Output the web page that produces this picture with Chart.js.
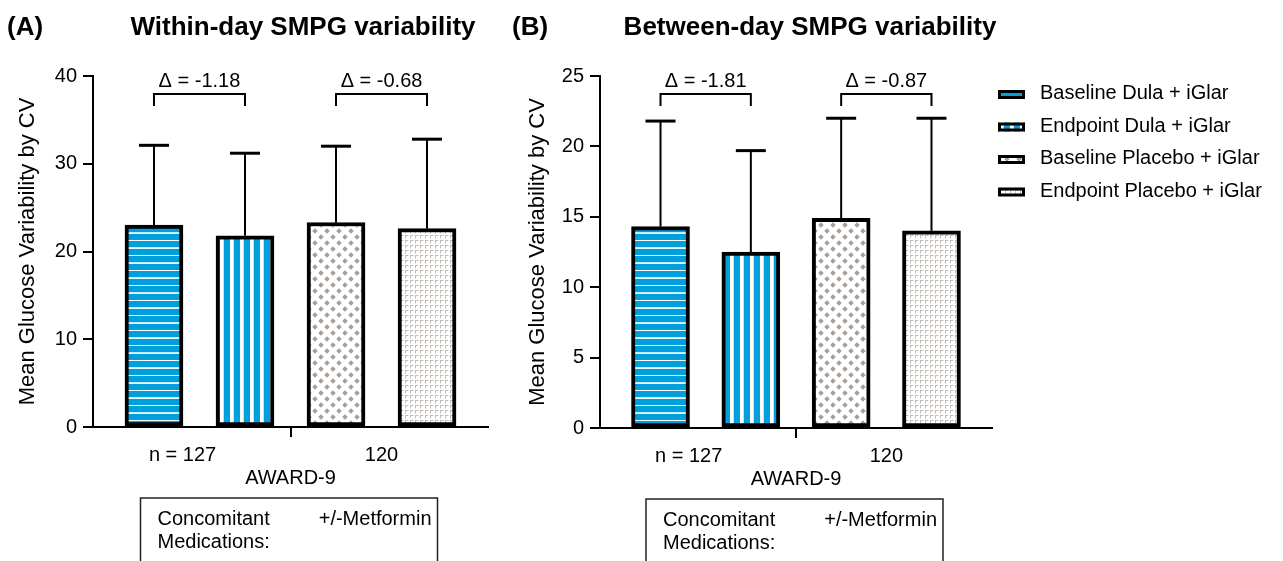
<!DOCTYPE html>
<html><head><meta charset="utf-8">
<script src="https://cdn.jsdelivr.net/npm/chart.js@4.4.0/dist/chart.umd.min.js"></script>
<style>
html,body{margin:0;padding:0;background:#fff;width:1283px;height:561px;overflow:hidden}
.wrap{position:absolute;top:0}
canvas{display:block}
</style></head><body>
<div class="wrap" style="left:0;width:500px;height:561px"><canvas id="a" width="500" height="561"></canvas></div>
<div class="wrap" style="left:500px;width:783px;height:561px"><canvas id="b" width="783" height="561"></canvas></div>
<script>
// ---------- data ----------
const seriesLabels = ['Baseline Dula + iGlar', 'Endpoint Dula + iGlar', 'Baseline Placebo + iGlar', 'Endpoint Placebo + iGlar'];
const groupN = [127, 120];
const studyLabel = 'AWARD-9';
const medsLabel = ['Concomitant', 'Medications:'];
const medsValue = '+/-Metformin';
const yTitle = 'Mean Glucose Variability by CV';

const withinMean = [23.0, 21.8, 23.3, 22.6];
const withinSD = [9.1, 9.4, 8.7, 10.2];
const withinDelta = [-1.18, -0.68];
const withinTicks = [0, 10, 20, 30, 40];

const betweenMean = [14.3, 12.5, 14.9, 14.0];
const betweenSD = [7.5, 7.2, 7.1, 8.0];
const betweenDelta = [-1.81, -0.87];
const betweenTicks = [0, 5, 10, 15, 20, 25];

// ---------- styles ----------
const FONT = '"Liberation Sans", Arial, Helvetica, sans-serif';
const BLUE = '#00a0dd';
Chart.defaults.font.family = FONT;
Chart.defaults.color = '#000';

function tile(w, h, draw) {
  const c = document.createElement('canvas');
  c.width = w; c.height = h;
  const g = c.getContext('2d');
  draw(g);
  return document.createElement('canvas').getContext('2d').createPattern(c, 'repeat');
}
const patterns = [
  tile(8, 15, g => { g.fillStyle = BLUE; g.fillRect(0, 0, 8, 15); g.fillStyle = '#fff'; g.fillRect(0, 0, 8, 1); g.fillStyle = '#c8eaf8'; g.fillRect(0, 7, 8, 1); g.fillStyle = '#e8f6fc'; g.fillRect(0, 8, 8, 1); }),
  tile(10, 8, g => { g.fillStyle = BLUE; g.fillRect(0, 0, 10, 8); g.fillStyle = '#fff'; g.fillRect(0, 0, 3, 8); g.fillStyle = '#bfe6f7'; g.fillRect(3, 0, 1, 8); }),
  tile(12, 12, g => {
    g.fillStyle = '#fff'; g.fillRect(0, 0, 12, 12);
    g.fillStyle = '#a69e98';
    const d = (cx, cy) => { g.beginPath(); g.moveTo(cx, cy - 2.7); g.lineTo(cx + 2.7, cy); g.lineTo(cx, cy + 2.7); g.lineTo(cx - 2.7, cy); g.closePath(); g.fill(); };
    d(3, 3); d(9, 9); d(15, 3); d(-3, 9); d(3, 15); d(9, -3);
  }),
  tile(5, 5, g => { g.fillStyle = '#fff'; g.fillRect(0, 0, 5, 5); g.fillStyle = '#c2bcb6'; g.fillRect(0, 0, 3, 1); g.fillRect(0, 0, 1, 3); g.fillStyle = '#e6e3e0'; g.fillRect(3, 0, 1, 1); g.fillRect(0, 3, 1, 1); })
];

// ---------- plugin: error bars, brackets, labels, box, legend ----------
const decor = {
  id: 'decor',
  afterDatasetsDraw(chart, args, o) {
    const ctx = chart.ctx;
    const ys = chart.scales.y, xs = chart.scales.x;
    const area = chart.chartArea;
    ctx.save();
    ctx.strokeStyle = '#000';
    // error bars (upper SD)
    chart.data.datasets.forEach((ds, i) => {
      const bar = chart.getDatasetMeta(i).data[0];
      const top = ys.getPixelForValue(o.mean[i] + o.sd[i]);
      ctx.lineWidth = 2;
      ctx.beginPath(); ctx.moveTo(bar.x, bar.y); ctx.lineTo(bar.x, top); ctx.stroke();
      ctx.lineWidth = 3;
      ctx.beginPath(); ctx.moveTo(bar.x - 15, top); ctx.lineTo(bar.x + 15, top); ctx.stroke();
    });
    // brackets with delta
    ctx.lineWidth = 2;
    ctx.fillStyle = '#000';
    ctx.font = '20px ' + FONT;
    ctx.textAlign = 'center';
    ctx.textBaseline = 'alphabetic';
    o.delta.forEach((dv, g) => {
      const x1 = chart.getDatasetMeta(g * 2).data[0].x;
      const x2 = chart.getDatasetMeta(g * 2 + 1).data[0].x;
      const yb = area.top + 18;
      ctx.beginPath(); ctx.moveTo(x1, yb + 12); ctx.lineTo(x1, yb); ctx.lineTo(x2, yb); ctx.lineTo(x2, yb + 12); ctx.stroke();
      ctx.fillText('\u0394 = ' + dv.toFixed(2), (x1 + x2) / 2, area.top + 11);
    });
    // group n labels
    groupN.forEach((n, g) => {
      const cx = xs.getPixelForValue(g * 2 + 1.5);
      const y = area.bottom + 34;
      const s = String(n);
      ctx.textAlign = 'center';
      ctx.fillText(s, cx, y);
      if (g === 0) {
        ctx.textAlign = 'right';
        ctx.fillText('n = ', cx - ctx.measureText(s).width / 2, y);
      }
    });
    const mid = xs.getPixelForValue(2.5);
    ctx.textAlign = 'center';
    ctx.fillText(studyLabel, mid, area.bottom + 57);
    // medications box
    const bl = mid - 150, br = mid + 147, bt = area.bottom + 71;
    ctx.lineWidth = 1.5;
    ctx.strokeStyle = '#222';
    ctx.strokeRect(bl, bt, br - bl, 100);
    ctx.textAlign = 'left';
    ctx.fillText(medsLabel[0], bl + 17, bt + 27);
    ctx.fillText(medsLabel[1], bl + 17, bt + 50);
    ctx.textAlign = 'right';
    ctx.fillText(medsValue, br - 6, bt + 27);
    // panel tag and title
    ctx.font = 'bold 26px ' + FONT;
    ctx.textAlign = 'left';
    ctx.fillText(o.tag, o.tagX, 35);
    ctx.textAlign = 'center';
    ctx.fillText(o.title, o.titleX, 35);
    // legend
    if (o.legend) {
      ctx.font = '20px ' + FONT;
      ctx.textAlign = 'left';
      chart.data.datasets.forEach((ds, i) => {
        const lx = area.right + 6, base = area.top + 23 + i * 32.5;
        ctx.fillStyle = ds.backgroundColor;
        ctx.fillRect(lx, base - 9, 27, 9);
        ctx.strokeStyle = '#000'; ctx.lineWidth = 3;
        ctx.strokeRect(lx + 1.5, base - 7.5, 24, 6);
        ctx.fillStyle = '#000';
        ctx.fillText(ds.label, lx + 42, base);
      });
    }
    ctx.restore();
  }
};

function makeChart(id, mean, sd, delta, ticks, opts) {
  const datasets = seriesLabels.map((lab, i) => ({
    label: lab,
    data: [{ x: i + 1, y: mean[i] }],
    backgroundColor: patterns[i],
    borderColor: '#000',
    borderWidth: 4,
    borderSkipped: false,
    barThickness: 58,
    grouped: false
  }));
  return new Chart(document.getElementById(id), {
    type: 'bar',
    data: { datasets },
    plugins: [decor],
    options: {
      responsive: false,
      animation: false,
      devicePixelRatio: 1,
      layout: { padding: { top: 76, left: 0, right: opts.padRight, bottom: 0 } },
      plugins: {
        legend: { display: false },
        tooltip: { enabled: false },
        decor: { mean, sd, delta, tag: opts.tag, tagX: opts.tagX, title: opts.title, titleX: opts.titleX, legend: opts.legend }
      },
      scales: {
        x: {
          type: 'linear', min: 0.33, max: 4.67, offset: false,
          afterBuildTicks: s => { s.ticks = [{ value: 2.5 }]; },
          afterFit: s => { s.height = opts.xHeight; },
          ticks: { display: false },
          grid: { display: true, offset: false, drawOnChartArea: false, drawTicks: true, tickLength: 10, lineWidth: 2, color: '#000' },
          border: { display: true, width: 2, color: '#000' }
        },
        y: {
          min: 0, max: ticks[ticks.length - 1],
          afterBuildTicks: s => { s.ticks = ticks.map(v => ({ value: v })); },
          afterFit: s => { s.width = opts.yWidth; },
          ticks: { font: { size: 20 }, color: '#000', padding: 6 },
          grid: { display: true, offset: false, drawOnChartArea: false, drawTicks: true, tickLength: 10, lineWidth: 2, color: '#000' },
          border: { display: true, width: 2, color: '#000' },
          title: { display: true, text: yTitle, font: { size: 22 }, color: '#000', padding: { top: opts.yTitlePad, bottom: 0 } }
        }
      }
    }
  });
}

makeChart('a', withinMean, withinSD, withinDelta, withinTicks,
  { padRight: 12, xHeight: 134, yWidth: 93, yTitlePad: 15, tag: '(A)', tagX: 7, title: 'Within-day SMPG variability', titleX: 303, legend: false });
makeChart('b', betweenMean, betweenSD, betweenDelta, betweenTicks,
  { padRight: 291, xHeight: 133, yWidth: 100, yTitlePad: 25, tag: '(B)', tagX: 12, title: 'Between-day SMPG variability', titleX: 310, legend: true });
</script>
</body></html>
